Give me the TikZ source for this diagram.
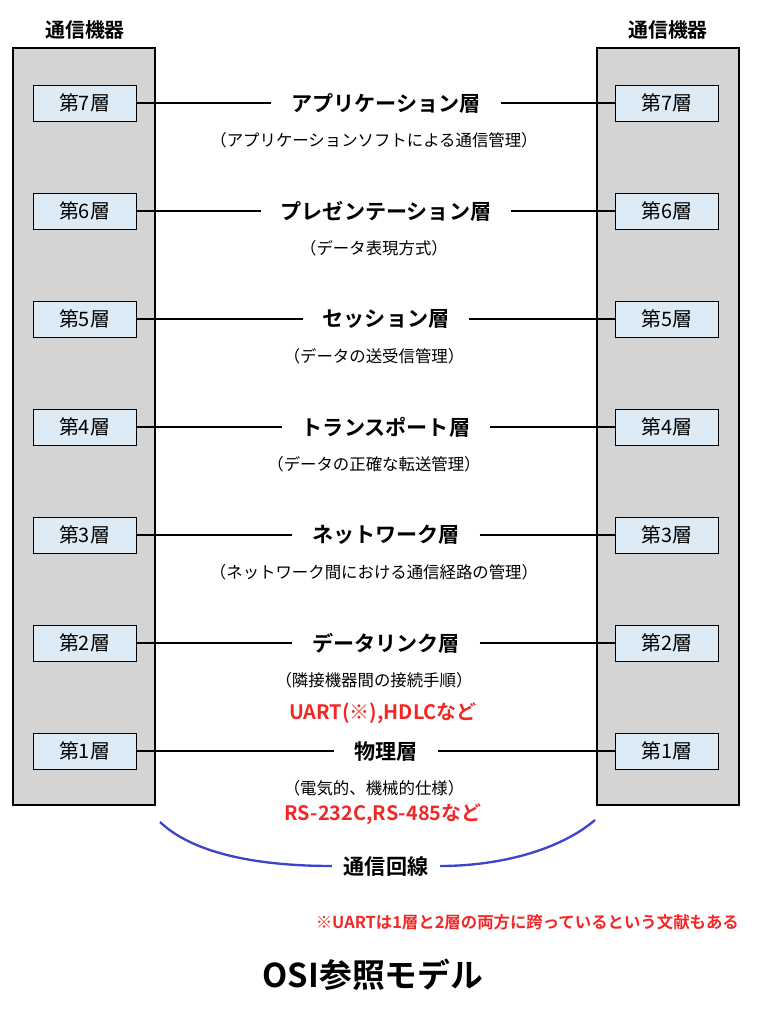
\documentclass[tikz,border=0pt]{standalone}
\usepackage{fontspec}
\setmainfont{Noto Sans CJK JP}[BoldFont={Noto Sans CJK JP Bold}]
\usetikzlibrary{positioning}
\definecolor{devgray}{RGB}{212,212,212}
\definecolor{layerblue}{RGB}{221,235,247}
\definecolor{noteRed}{RGB}{240,40,40}
\definecolor{lineBlue}{RGB}{60,70,200}
\begin{document}
\begin{tikzpicture}[x=0.03cm,y=-0.03cm]

\tikzset{device/.style = {draw, fill=devgray, line width=1pt},
	layer/.style = {draw, fill=layerblue, minimum width=3.09cm, minimum height=1.08cm, font=\fontsize{17}{19}\selectfont},
	layername/.style = {font=\bfseries\fontsize{18}{21}\selectfont, inner xsep=17pt},
	desc/.style = {font=\fontsize{14}{16}\selectfont},
	note/.style = {text=noteRed, font=\bfseries\fontsize{17}{19}\selectfont}}

\useasboundingbox (0,0) rectangle (758,1010);

\draw[device] (13,48) rectangle (155,805);
\draw[device] (597,48) rectangle (739,805);
\node[font=\bfseries\fontsize{17}{19}\selectfont] (devL) at (85,30) {通信機器};
\node[font=\bfseries\fontsize{17}{19}\selectfont] (devR) at (668,30) {通信機器};

\foreach \i/\nm/\ds in {7/アプリケーション層/（アプリケーションソフトによる通信管理）,
	6/プレゼンテーション層/（データ表現方式）,
	5/セッション層/（データの送受信管理）,
	4/トランスポート層/（データの正確な転送管理）,
	3/ネットワーク層/（ネットワーク間における通信経路の管理）,
	2/データリンク層/（隣接機器間の接続手順）,
	1/物理層/（電気的、機械的仕様）}
{
	\pgfmathsetmacro{\yy}{103 + (7 - \i) * 108}
	\node[layer] (L\i) at (84.5,\yy) {第\i 層};
	\node[layer] (R\i) at (667,\yy) {第\i 層};
	\node[layername] (N\i) at (386,\yy) {\nm};
	\node[desc] (D\i) at (374,\yy + 37) {\ds};
	\draw[line width=1.2pt] (L\i) -- (N\i) -- (R\i);
}

\node[note] (uart) at (383,713) {UART(※),HDLCなど};
\node[note] (rs) at (383,814) {RS-232C,RS-485など};

\node[font=\bfseries\fontsize{18}{21}\selectfont, inner xsep=10pt] (line) at (386,866) {通信回線};
\coordinate (cl) at (160,822);
\coordinate (cr) at (595,820);
\draw[lineBlue, line width=2pt] (cl) .. controls (200,860) and (280,866) .. (line.west);
\draw[lineBlue, line width=2pt] (line.east) .. controls (500,866) and (560,850) .. (cr);

\node[note, font=\bfseries\fontsize{14}{16}\selectfont, anchor=east] (ref) at (743,922) {※UARTは1層と2層の両方に跨っているという文献もある};
\node[font=\bfseries\fontsize{28}{32}\selectfont] (title) at (373,975) {OSI参照モデル};

\end{tikzpicture}
\end{document}
